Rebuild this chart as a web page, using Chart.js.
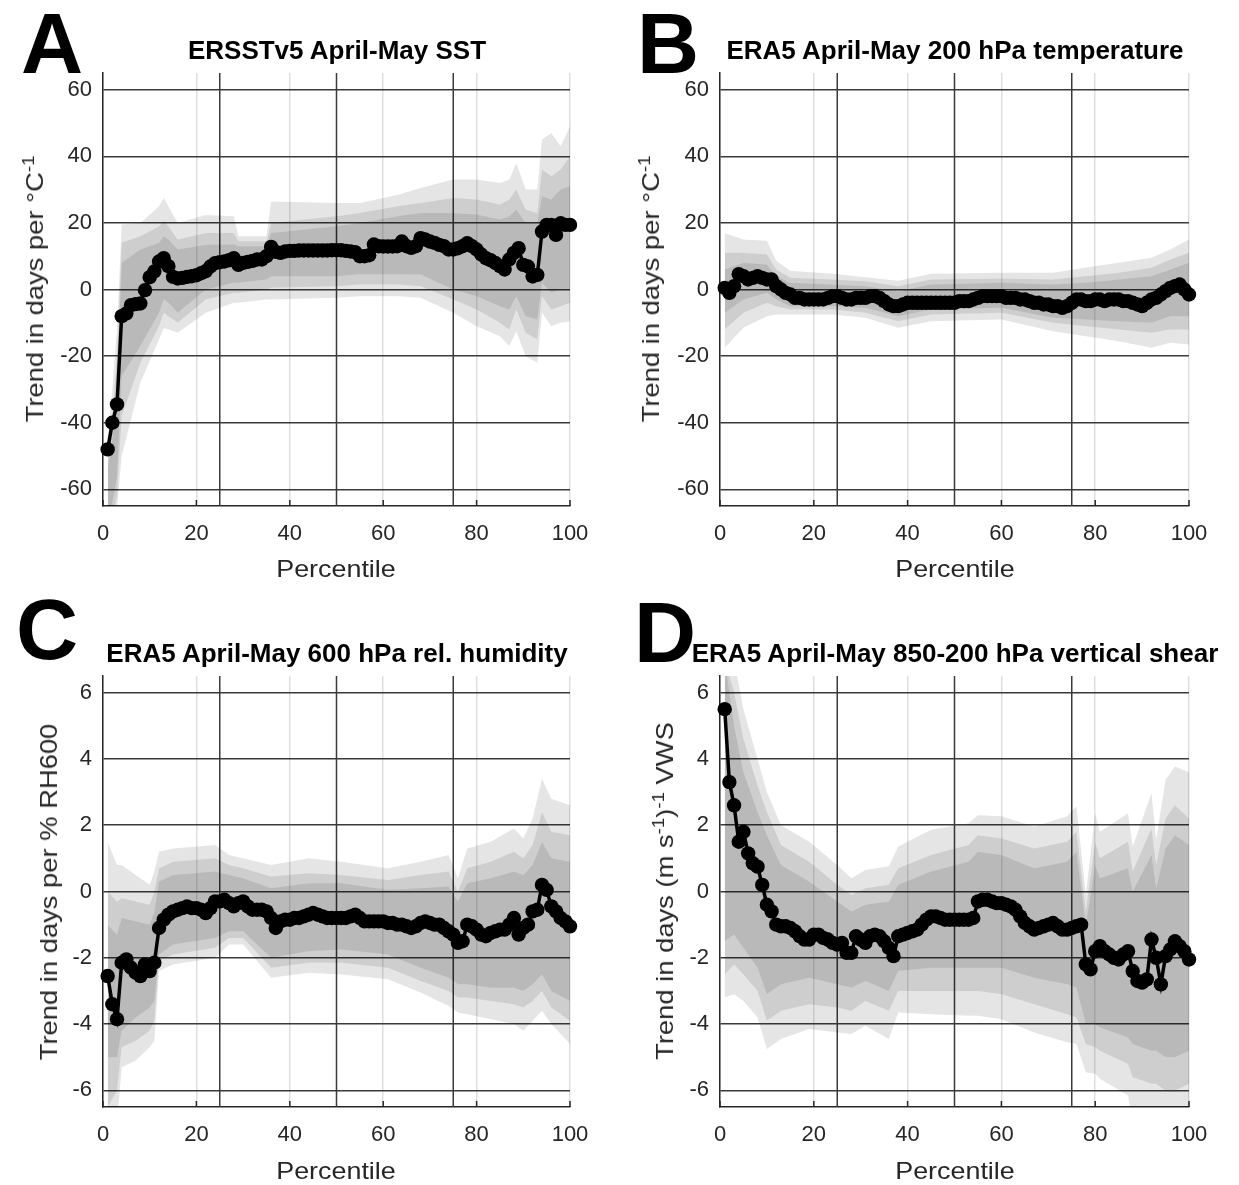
<!DOCTYPE html>
<html>
<head>
<meta charset="utf-8">
<script src="https://cdn.jsdelivr.net/npm/chart.js@4.4.1/dist/chart.umd.min.js"></script>
<style>
  body { margin: 0; background: #fff; width: 1239px; height: 1185px; position: relative; overflow: hidden; font-family: "Liberation Sans", Arial, sans-serif; }
  canvas { position: absolute; }
  .letter { position: absolute; font: bold 86px/1 "Liberation Sans", Arial, sans-serif; color: #000; }
  .title { position: absolute; font: bold 26px/1 "Liberation Sans", Arial, sans-serif; color: #000; white-space: nowrap; transform: translate(-50%, -50%); }
  .xlab { position: absolute; font: 24px/1 "Liberation Sans", Arial, sans-serif; color: #262626; white-space: nowrap; transform: translate(-50%, -50%) scaleX(1.12); }
  .ylab { position: absolute; font: 24px/1 "Liberation Sans", Arial, sans-serif; color: #262626; white-space: nowrap; transform: translate(-50%, -50%) rotate(-90deg) scaleX(1.14); }
  sup { font-size: 0.68em; vertical-align: 0.55em; line-height: 0; }
</style>
</head>
<body>
<canvas id="panelA" width="620" height="600" style="left:0;top:0"></canvas>
<canvas id="panelB" width="622" height="600" style="left:617px;top:0"></canvas>
<canvas id="panelC" width="620" height="585" style="left:0;top:600px"></canvas>
<canvas id="panelD" width="622" height="585" style="left:617px;top:600px"></canvas>

<div class="letter" style="left:21px;top:0px">A</div>
<div class="letter" style="left:637px;top:0px">B</div>
<div class="letter" style="left:16px;top:586px">C</div>
<div class="letter" style="left:634px;top:589px">D</div>

<div class="title" style="left:337px;top:50px">ERSSTv5 April-May SST</div>
<div class="title" style="left:955px;top:50px">ERA5 April-May 200 hPa temperature</div>
<div class="title" style="left:337px;top:653px">ERA5 April-May 600 hPa rel. humidity</div>
<div class="title" style="left:955px;top:653px">ERA5 April-May 850-200 hPa vertical shear</div>

<div class="xlab" style="left:336px;top:569px">Percentile</div>
<div class="xlab" style="left:955px;top:569px">Percentile</div>
<div class="xlab" style="left:336px;top:1171px">Percentile</div>
<div class="xlab" style="left:955px;top:1171px">Percentile</div>

<div class="ylab" style="left:35px;top:289px">Trend in days per °C<sup>-1</sup></div>
<div class="ylab" style="left:651px;top:289px">Trend in days per °C<sup>-1</sup></div>
<div class="ylab" style="left:49px;top:892px">Trend in days per % RH600</div>
<div class="ylab" style="left:665px;top:891px">Trend in days (m s<sup>-1</sup>)<sup>-1</sup> VWS</div>

<script>
// percentiles 1..100 and axis ticks
const percentiles = Array.from({ length: 100 }, (_, i) => i + 1);
const xTicks = [0, 20, 40, 60, 80, 100];
const quartiles = [25, 50, 75];
const tempTicks = [-60, -40, -20, 0, 20, 40, 60];
const smallTicks = [-6, -4, -2, 0, 2, 4, 6];

// ===== A: SST =====
const aTrend = [-48, -40, -34.5, -8, -7.2, -4.7, -4.4, -4.2, -0.2, 3.7,
  5.4, 8.4, 9.4, 7, 3.8, 3.3, 3.5, 3.8, 4, 4.3,
  4.9, 5.5, 6.9, 7.9, 8.2, 8.4, 8.8, 9.4, 7.4, 8,
  8.3, 8.6, 9, 9, 10, 12.8, 11.3, 11, 11.4, 11.6,
  11.6, 11.7, 11.7, 11.7, 11.7, 11.7, 11.7, 11.7, 11.8, 11.8,
  11.8, 11.6, 11.4, 11.2, 10, 10, 10.3, 13.5, 13, 12.9,
  12.9, 12.9, 13, 14.4, 13, 12.5, 13, 15.4, 15, 14.4,
  14, 13.4, 13, 12, 12, 12.4, 13, 13.9, 13, 12,
  10.5, 9.4, 8.8, 8, 7, 6, 9, 11, 12.4, 7.4,
  6.9, 3.9, 4.4, 17.4, 19.4, 19.4, 16.4, 19.9, 19.4, 19.4];
const aBandPct = [1, 2, 3, 4, 8, 12, 13, 14, 16, 22, 28, 29, 35, 36, 50, 55, 63, 68, 75, 80, 85, 87, 88.5, 90.5, 93, 94, 96, 98, 100];
const aLightLo = [-75, -72, -66, -50, -28, -15, -11.6, -12, -13, -7, -4, -4, -3, -3, -2.5, -2, -2, -2.5, -7, -11, -14, -17, -12.5, -20, -22, -7, -11, -10, -9.5];
const aLightHi = [-45, -30, -12, 19.5, 20, 25, 27.5, 25, 20, 22.4, 22, 16, 16, 26.4, 26, 26, 28.4, 30.5, 33, 33, 32, 33, 38, 30, 30, 45, 47, 43, 49];
const aMidLo = [-72, -68, -62, -38, -22, -11, -7, -8, -10, -3, -1, -1, 0, 0.5, 1, 1.5, 1.5, 1, -3, -6, -10, -12, -6, -13, -15, -2, -6, -5, -4];
const aMidHi = [-50, -38, -20, 14, 16, 19, 20.5, 19, 15, 17, 17, 14.5, 14.5, 20, 22, 23, 25, 26, 27.5, 27, 25.5, 27, 30, 24, 23, 36, 34, 36, 40];
const aDarkLo = [-68, -64, -56, -26, -17, -7, -3, -4, -7, 0, 2, 2, 3, 4, 4, 4.6, 4.6, 4.5, 0, -2, -5, -6, -2, -8, -9, 2, -1, 0, 0];
const aDarkHi = [-54, -45, -28, 8, 12, 14, 16, 15, 12, 13.4, 13.5, 13, 13, 17, 19, 20, 22, 23, 23, 22.5, 21, 22, 24, 20, 20, 28, 27, 30, 31];

// ===== B: 200 hPa temperature =====
const bTrend = [0.5, -1, 1, 4.6, 4, 3, 3.5, 4, 3.5, 3,
  3, 1, 0, -1, -1.5, -2.5, -2.5, -3, -3, -3,
  -3, -3, -2.5, -2, -2, -2.5, -3, -3, -2.5, -2.5,
  -2.5, -2, -2, -2.5, -3.5, -4.5, -5, -5, -4.5, -4,
  -4, -4, -4, -4, -4, -4, -4, -4, -4, -4,
  -3.5, -3.5, -3.5, -3, -2.5, -2, -2, -2, -2, -2,
  -2.5, -2.5, -2.5, -3, -3, -3.5, -4, -4, -4.5, -4.5,
  -5, -5, -5.5, -5, -4, -3, -3, -3.5, -3.5, -3,
  -3, -3.5, -3, -3, -3, -3.5, -3.5, -4, -4.5, -5,
  -4, -3, -2.5, -1.5, -0.5, 0.5, 1, 1.5, 0, -1.5];
const bBandPct = [1, 5, 10, 12, 15, 24, 31, 38, 45, 60, 71, 78, 85, 92, 96, 100];
const bLightLo = [-17.5, -11.5, -8, -7.5, -7.5, -7.5, -8.5, -11.5, -9.5, -9, -12.5, -14, -15.5, -17.5, -16, -16.5];
const bLightHi = [17, 15, 14.6, 8.6, 5.6, 4.7, 3.7, 2.6, 4.7, 5, 5, 6.6, 8, 9.5, 12, 15];
const bMidLo = [-12, -7, -4, -5, -6, -6, -7, -9.5, -7.5, -7, -10, -11, -12, -13, -12, -12];
const bMidHi = [11, 11, 10.5, 6, 3.5, 3, 2.5, 1, 3, 3.3, 3, 4, 5, 6.5, 9, 11];
const bDarkLo = [-7, -3, -1, -3, -5, -5, -5.5, -8, -6, -5.5, -8.5, -9, -9.5, -10, -8, -8];
const bDarkHi = [6, 8, 7.5, 4, 2, 1.5, 1, -0.5, 1.5, 2, 1.5, 2, 3, 4, 6, 8];

// ===== C: 600 hPa relative humidity =====
const cTrend = [-2.55, -3.4, -3.85, -2.15, -2.05, -2.3, -2.45, -2.55, -2.2, -2.4,
  -2.15, -1.1, -0.85, -0.7, -0.6, -0.55, -0.5, -0.45, -0.5, -0.5,
  -0.55, -0.65, -0.5, -0.3, -0.3, -0.25, -0.35, -0.45, -0.35, -0.3,
  -0.45, -0.55, -0.55, -0.55, -0.6, -0.8, -1.1, -0.9, -0.85, -0.85,
  -0.8, -0.8, -0.75, -0.7, -0.65, -0.7, -0.75, -0.8, -0.8, -0.8,
  -0.8, -0.8, -0.75, -0.7, -0.8, -0.9, -0.9, -0.9, -0.9, -0.9,
  -0.95, -0.95, -1.0, -1.0, -1.05, -1.1, -1.05, -0.95, -0.9, -0.95,
  -1.0, -1.0, -1.1, -1.2, -1.3, -1.55, -1.5, -1.0, -1.05, -1.15,
  -1.3, -1.35, -1.25, -1.2, -1.15, -1.15, -1.0, -0.8, -1.3, -1.1,
  -1.0, -0.6, -0.55, 0.2, 0.05, -0.45, -0.6, -0.8, -0.9, -1.05];
const cBandPct = [1, 3, 4, 7, 10, 11, 12, 15, 24, 27, 30, 36, 44, 51, 61, 68, 74, 76, 78, 83, 88, 90, 92, 94, 96, 100];
const cLightLo = [-7, -7, -5.3, -5.1, -4.7, -4.5, -2.4, -2.2, -2.0, -1.6, -1.6, -2.6, -2.45, -2.5, -2.65, -3.05, -3.45, -3.65, -3.7, -3.85, -4.0, -4.2, -3.9, -3.6, -4.0, -4.6];
const cLightHi = [1.5, 0.8, 0.8, 0.5, 0.2, 0.6, 1.2, 1.3, 1.4, 1.1, 1.0, 0.8, 1.0, 0.9, 0.7, 0.9, 1.1, 0.4, 1.3, 1.5, 1.9, 1.6, 2.2, 3.4, 2.8, 2.6];
const cMidLo = [-6.5, -6, -4.7, -4.5, -4.2, -3.9, -2.1, -1.9, -1.7, -1.4, -1.4, -2.3, -2.15, -2.15, -2.3, -2.7, -3.0, -3.2, -3.2, -3.3, -3.4, -3.5, -3.3, -3.0, -3.5, -3.9];
const cMidHi = [0, -0.3, -0.2, -0.3, -0.4, 0, 0.7, 0.9, 1.0, 0.8, 0.7, 0.45, 0.55, 0.5, 0.35, 0.5, 0.6, 0, 0.7, 0.9, 1.2, 1.0, 1.4, 2.4, 1.8, 1.7];
const cDarkLo = [-5, -5, -4.2, -3.8, -3.5, -3.3, -1.9, -1.6, -1.4, -1.2, -1.2, -2.0, -1.8, -1.75, -1.9, -2.3, -2.6, -2.8, -2.8, -2.9, -2.9, -3.0, -2.8, -2.5, -3.0, -3.3];
const cDarkHi = [-1, -1.3, -0.8, -0.9, -1, -0.6, 0.3, 0.5, 0.6, 0.5, 0.4, 0.1, 0.25, 0.25, 0.05, 0.1, 0.15, -0.3, 0.25, 0.4, 0.6, 0.5, 0.8, 1.5, 1.0, 0.9];

// ===== D: 850-200 hPa vertical shear =====
const dTrend = [5.5, 3.3, 2.6, 1.5, 1.8, 1.15, 0.85, 0.75, 0.2, -0.4,
  -0.6, -1.0, -1.05, -1.05, -1.1, -1.2, -1.35, -1.45, -1.45, -1.3,
  -1.3, -1.4, -1.45, -1.55, -1.6, -1.55, -1.85, -1.85, -1.35, -1.45,
  -1.55, -1.35, -1.3, -1.35, -1.5, -1.7, -1.95, -1.35, -1.3, -1.25,
  -1.2, -1.15, -1.0, -0.85, -0.75, -0.75, -0.8, -0.85, -0.85, -0.85,
  -0.85, -0.85, -0.85, -0.8, -0.3, -0.25, -0.25, -0.3, -0.35, -0.35,
  -0.4, -0.45, -0.55, -0.75, -0.95, -1.05, -1.15, -1.1, -1.05, -1.0,
  -0.95, -1.05, -1.15, -1.15, -1.1, -1.05, -1.0, -2.2, -2.35, -1.8,
  -1.65, -1.8, -1.9, -2.0, -2.05, -1.9, -1.8, -2.4, -2.7, -2.75,
  -2.65, -1.45, -2.0, -2.8, -1.95, -1.75, -1.5, -1.65, -1.8, -2.05];
const dBandPct = [1, 3, 5, 8, 10, 13, 19, 25, 28, 31, 36, 38, 45, 53, 55, 60, 67, 74, 76, 78, 80, 81, 87, 88, 92, 93, 95, 97, 100];
const dLightLo = [-3.2, -3.1, -3.3, -3.8, -4.75, -4.45, -4.15, -4.25, -4.3, -4.05, -4.45, -3.65, -3.7, -3.75, -3.75, -3.85, -4.25, -4.55, -4.6, -5.45, -5.5, -5.65, -6.15, -7, -7, -7, -7, -7, -7];
const dLightHi = [7, 7, 5.5, 4.0, 3.0, 2.0, 1.5, 0.8, 0.4, 0.65, 0.76, 1.36, 1.86, 2.06, 2.3, 2.27, 1.96, 2.27, 2.57, -0.1, 2.36, 1.8, 2.36, 1.36, 2.97, 1.56, 3.37, 3.77, 3.6];
const dMidLo = [-2.5, -2.2, -2.5, -3.0, -3.9, -3.6, -3.4, -3.5, -3.6, -3.3, -3.6, -3.0, -3.0, -3.0, -3.0, -3.1, -3.4, -3.7, -3.8, -4.6, -4.7, -4.8, -5.2, -5.6, -5.8, -5.8, -6.0, -6.0, -5.8];
const dMidHi = [7, 6.0, 4.6, 3.2, 2.4, 1.4, 0.9, 0.2, -0.1, 0.1, 0.2, 0.7, 1.1, 1.4, 1.7, 1.6, 1.3, 1.5, 1.8, -0.6, 1.5, 1.0, 1.5, 0.6, 1.9, 0.8, 2.2, 2.6, 2.2];
const dDarkLo = [-1.5, -1.3, -1.7, -2.3, -3.1, -2.8, -2.6, -2.8, -2.9, -2.7, -3.0, -2.4, -2.3, -2.3, -2.3, -2.3, -2.6, -2.8, -2.9, -4.0, -4.0, -4.1, -4.4, -4.6, -4.8, -4.8, -5.0, -5.0, -4.8];
const dDarkHi = [7, 5.0, 3.6, 2.4, 1.7, 0.8, 0.3, -0.3, -0.6, -0.4, -0.3, 0.2, 0.6, 0.9, 1.2, 1.1, 0.7, 0.9, 1.2, -1.0, 0.8, 0.4, 0.7, 0.0, 1.1, 0.1, 1.3, 1.7, 1.4];

function pts(xs, ys) {
  return ys.map((y, i) => ({ x: xs[i], y: y }));
}

// each band = lower edge (no fill) + upper edge filled down to it; 10% black so overlaps darken
function bandSets(xs, lo, hi) {
  return [
    { data: pts(xs, lo), borderWidth: 0, borderColor: 'transparent', pointRadius: 0, fill: false },
    { data: pts(xs, hi), borderWidth: 0, borderColor: 'transparent', pointRadius: 0, fill: '-1', backgroundColor: 'rgba(0,0,0,0.1)' }
  ];
}

// dark vertical lines at the quartiles + short inward ticks on the bottom axis
const quartileLines = {
  id: 'quartileLines',
  beforeDatasetsDraw(chart) {
    const { ctx, chartArea, scales } = chart;
    ctx.save();
    ctx.strokeStyle = '#3a3a3a';
    ctx.lineWidth = 1.5;
    quartiles.forEach(q => {
      const px = scales.x.getPixelForValue(q);
      ctx.beginPath();
      ctx.moveTo(px, chartArea.top);
      ctx.lineTo(px, chartArea.bottom);
      ctx.stroke();
    });
    ctx.strokeStyle = '#262626';
    xTicks.forEach(v => {
      const px = scales.x.getPixelForValue(v);
      ctx.beginPath();
      ctx.moveTo(px, chartArea.bottom);
      ctx.lineTo(px, chartArea.bottom - 6);
      ctx.stroke();
    });
    ctx.restore();
  }
};

const tickFont = { family: '"Liberation Sans", Arial, sans-serif', size: 22 };

function makePanel(id, trend, bandPct, bands, yMax, yTicks, padTop, xAxisH) {
  const datasets = [{
    data: pts(percentiles, trend),
    borderColor: '#000',
    borderWidth: 3.5,
    pointRadius: 7.2,
    pointBackgroundColor: '#000',
    pointBorderWidth: 0,
    fill: false,
    tension: 0,
    clip: false
  }];
  bands.forEach(b => datasets.push(...bandSets(bandPct, b[0], b[1])));

  new Chart(document.getElementById(id), {
    type: 'line',
    data: { datasets: datasets },
    options: {
      responsive: false,
      animation: false,
      layout: { padding: { top: padTop, right: 50, left: 0, bottom: 0 } },
      plugins: { legend: { display: false }, tooltip: { enabled: false } },
      scales: {
        x: {
          type: 'linear',
          min: 0,
          max: 100,
          afterBuildTicks: a => { a.ticks = xTicks.map(v => ({ value: v })); },
          afterFit: a => { a.height = xAxisH; },
          grid: { color: 'rgba(0,0,0,0.13)', lineWidth: 1.5, drawTicks: false },
          border: { color: '#262626', width: 1.5 },
          ticks: { color: '#262626', font: tickFont, padding: 15, maxRotation: 0 }
        },
        y: {
          type: 'linear',
          min: -yMax,
          max: yMax,
          afterBuildTicks: a => { a.ticks = yTicks.map(v => ({ value: v })); },
          afterFit: a => { a.width = 103; },
          grid: { color: '#3a3a3a', lineWidth: 1.5, drawTicks: false },
          border: { color: '#262626', width: 1.5 },
          ticks: { color: '#262626', font: tickFont, padding: 11 }
        }
      }
    },
    plugins: [quartileLines]
  });
}

makePanel('panelA', aTrend, aBandPct,
  [[aLightLo, aLightHi], [aMidLo, aMidHi], [aDarkLo, aDarkHi]], 65, tempTicks, 73, 94);
makePanel('panelB', bTrend, bBandPct,
  [[bLightLo, bLightHi], [bMidLo, bMidHi], [bDarkLo, bDarkHi]], 65, tempTicks, 73, 94);
makePanel('panelC', cTrend, cBandPct,
  [[cLightLo, cLightHi], [cMidLo, cMidHi], [cDarkLo, cDarkHi]], 6.5, smallTicks, 76, 78);
makePanel('panelD', dTrend, dBandPct,
  [[dLightLo, dLightHi], [dMidLo, dMidHi], [dDarkLo, dDarkHi]], 6.5, smallTicks, 76, 78);
</script>
</body>
</html>
